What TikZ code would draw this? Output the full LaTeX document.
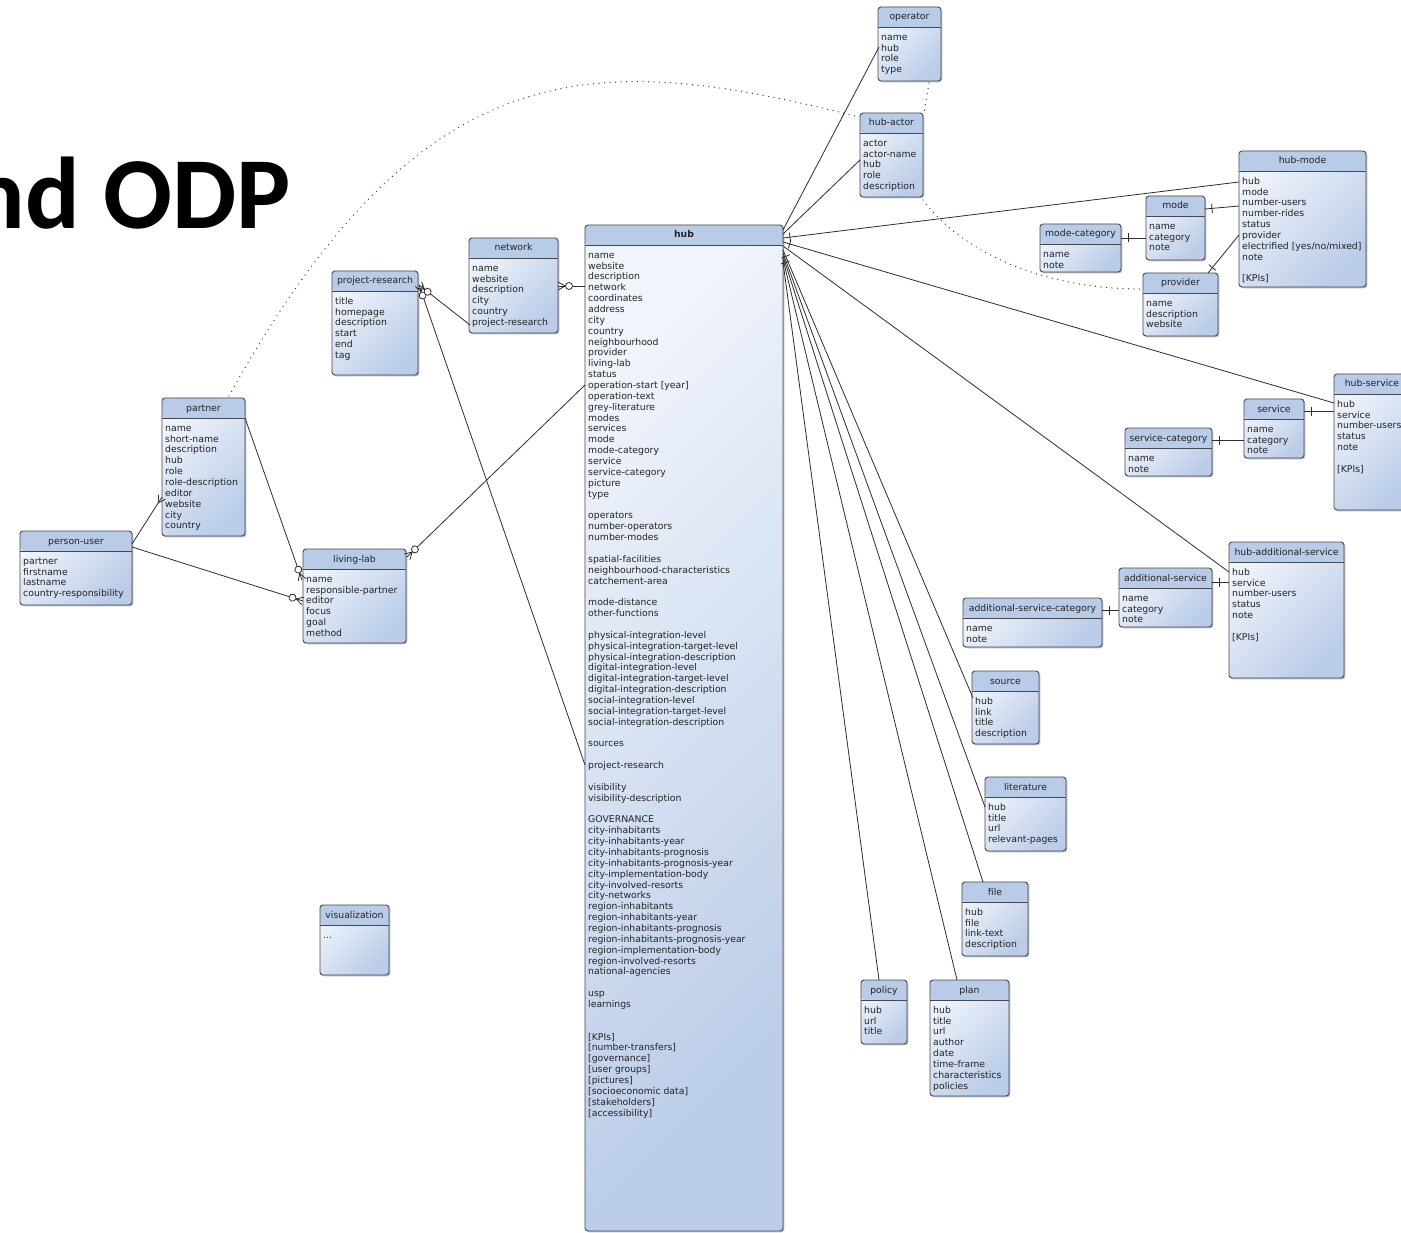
\documentclass[tikz,border=0pt]{standalone}
\usepackage{fontspec}
\newfontfamily\erfont{DejaVu Sans}
\newfontfamily\ttlfont{Carlito}
\usetikzlibrary{calc,shadows,decorations.markings}
\definecolor{edge}{RGB}{70,72,78}
\definecolor{hdr}{RGB}{184,203,231}
\definecolor{elight}{RGB}{240,244,251}
\definecolor{edark}{RGB}{186,204,232}
\definecolor{etext}{RGB}{35,35,35}
\definecolor{lcol}{RGB}{45,45,45}
\tikzset{
  ebox/.style={draw=edge, line width=0.9pt, rounded corners=3pt,
    top color=elight, bottom color=edark, shading angle=45,
    inner sep=0pt, outer sep=0pt, anchor=north west,
    drop shadow={shadow xshift=1.3pt, shadow yshift=-1.3pt, opacity=0.25, fill=black},
    path picture={\fill[hdr] (path picture bounding box.north west) rectangle ([yshift=-20pt]path picture bounding box.north east);
      \draw[edge, line width=0.9pt] ([yshift=-20pt]path picture bounding box.north west) -- ([yshift=-20pt]path picture bounding box.north east);}},
  etitle/.style={font=\erfont\fontsize{9.3}{10.86}\selectfont, text=etext, inner sep=0pt, text height=7pt, text depth=2pt},
  eitems/.style={font=\erfont\fontsize{9.3}{10.86}\selectfont, text=etext, inner sep=0pt, align=left, anchor=north west},
  conn/.style={draw=lcol, line width=0.8pt},
  dotl/.style={draw=lcol, line width=1.3pt, line cap=round, dash pattern=on 0pt off 5.5pt},
  barS/.style={postaction={decorate, decoration={markings, mark=at position 7pt with {\draw[lcol, line width=0.8pt] (0,-4.5pt) -- (0,4.5pt);}}}},
  crowE/.style={postaction={decorate, decoration={markings, mark=at position -0.1pt with {\draw[lcol, line width=0.8pt] (0,4pt) -- (-7pt,0) -- (0,-4pt);}}}},
  circE/.style={postaction={decorate, decoration={markings, mark=at position -11pt with {\draw[lcol, line width=0.8pt, fill=white] (0,0) circle (3.5pt);}}}},
}
\newcommand\ent[7]{%
  \node[ebox, minimum width=#4-#2, minimum height=#5-#3] (#1) at (#2,#3) {};
  \node[etitle] (#1-t) at ($(#1.north)+(0,10.5)$) {#6};
  \node[eitems] (#1-i) at ($(#1.north west)+(3,25.5)$) {\rule{0pt}{7.5pt}#7};
}
\begin{document}
\begin{tikzpicture}[x=1pt,y=-1pt]
\fill[white] (0,0) rectangle (1401,1233);
\useasboundingbox (0,0) rectangle (1401,1233);

\node[font=\ttlfont\bfseries\fontsize{102}{110}\selectfont, anchor=base east, inner sep=0pt] (ttl) at (291,229) {nd ODP};

\ent{operator}{878}{7}{941}{81}{operator}{name\\hub\\role\\type}
\ent{hubactor}{860}{113}{923}{197}{hub-actor}{actor\\actor-name\\hub\\role\\description}
\ent{hubmode}{1239}{151}{1366}{287}{hub-mode}{hub\\mode\\number-users\\number-rides\\status\\provider\\electrified [yes/no/mixed]\\note\\~\\{}[KPIs]}
\ent{mode}{1146}{196}{1205}{260}{mode}{name\\category\\note}
\ent{modecat}{1040}{224}{1121}{272}{mode-category}{name\\note}
\ent{provider}{1143}{273}{1218}{336}{provider}{name\\description\\website}
\ent{hubservice}{1334}{374}{1410}{510}{hub-service}{hub\\service\\number-users\\status\\note\\~\\{}[KPIs]}
\ent{service}{1244}{399}{1304}{458}{service}{name\\category\\note}
\ent{servicecat}{1125}{428}{1212}{476}{service-category}{name\\note}
\ent{hubaddserv}{1229}{542}{1344}{678}{hub-additional-service}{hub\\service\\number-users\\status\\note\\~\\{}[KPIs]}
\ent{addserv}{1119}{568}{1212}{627}{additional-service}{name\\category\\note}
\ent{addservcat}{963}{598}{1102}{647}{additional-service-category}{name\\note}
\ent{source}{972}{671}{1039}{744}{source}{hub\\link\\title\\description}
\ent{literature}{985}{777}{1066}{851}{literature}{hub\\title\\url\\relevant-pages}
\ent{file}{962}{882}{1028}{956}{file}{hub\\file\\link-text\\description}
\ent{policy}{861}{980}{907}{1044}{policy}{hub\\url\\title}
\ent{plan}{930}{980}{1009}{1096}{plan}{hub\\title\\url\\author\\date\\time-frame\\characteristics\\policies}
\ent{network}{469}{238}{558}{333}{network}{name\\website\\description\\city\\country\\project-research}
\ent{projres}{332}{271}{418}{375}{project-research}{title\\homepage\\description\\start\\end\\tag}
\ent{partner}{162}{398}{245}{536}{partner}{name\\short-name\\description\\hub\\role\\role-description\\editor\\website\\city\\country}
\ent{personuser}{20}{531}{132}{605}{person-user}{partner\\firstname\\lastname\\country-responsibility}
\ent{livinglab}{303}{549}{406}{643}{living-lab}{name\\responsible-partner\\editor\\focus\\goal\\method}
\ent{visualization}{320}{905}{389}{975}{visualization}{...}
\ent{hub}{585}{225}{783}{1231}{\textbf{hub}}{name\\website\\description\\network\\coordinates\\address\\city\\country\\neighbourhood\\provider\\living-lab\\status\\operation-start [year]\\operation-text\\grey-literature\\modes\\services\\mode\\mode-category\\service\\service-category\\picture\\type\\~\\operators\\number-operators\\number-modes\\~\\spatial-facilities\\neighbourhood-characteristics\\catchement-area\\~\\mode-distance\\other-functions\\~\\physical-integration-level\\physical-integration-target-level\\physical-integration-description\\digital-integration-level\\digital-integration-target-level\\digital-integration-description\\social-integration-level\\social-integration-target-level\\social-integration-description\\~\\sources\\~\\project-research\\~\\visibility\\visibility-description\\~\\GOVERNANCE\\city-inhabitants\\city-inhabitants-year\\city-inhabitants-prognosis\\city-inhabitants-prognosis-year\\city-implementation-body\\city-involved-resorts\\city-networks\\region-inhabitants\\region-inhabitants-year\\region-inhabitants-prognosis\\region-inhabitants-prognosis-year\\region-implementation-body\\region-involved-resorts\\national-agencies\\~\\usp\\learnings\\~\\~\\{}[KPIs]\\{}[number-transfers]\\{}[governance]\\{}[user groups]\\{}[pictures]\\{}[socioeconomic data]\\{}[stakeholders]\\{}[accessibility]}

% hub fan on the right
\draw[conn] ($(hub.north east)+(0,5)$) -- ($(operator.north west)+(1,40)$);
\draw[conn] ($(hub.north east)+(0,9)$) -- ($(hubactor.north west)+(0,47)$);
\draw[conn,barS] ($(hub.north east)+(0,13)$) -- ($(hubmode.north west)+(0,31)$);
\draw[conn,barS] ($(hub.north east)+(0,17)$) -- ($(hubservice.north west)+(0,29)$);
\draw[conn] ($(hub.north east)+(0,21)$) -- ($(hubaddserv.north west)+(0,30)$);
\draw[conn,barS] ($(hub.north east)+(0,25)$) -- ($(source.north west)+(1,27)$);
\draw[conn] ($(hub.north east)+(0,28)$) -- ($(literature.north west)+(0,30)$);
\draw[conn,barS] ($(hub.north east)+(0,31)$) -- ($(file.north west)+(21,0)$);
\draw[conn] ($(hub.north east)+(0,34)$) -- ($(plan.north west)+(27,0)$);
\draw[conn] ($(hub.north east)+(0,37)$) -- ($(policy.north west)+(18,0)$);

% left side
\draw[conn,crowE,circE] ($(hub.north west)+(0,61)$) -- ($(network.north east)+(0,48)$);
\draw[conn,crowE,circE] ($(hub.north west)+(0,160)$) -- ($(livinglab.north east)+(1,8)$);
\draw[conn,crowE,circE] ($(hub.north west)+(0,540)$) -- ($(projres.north east)+(1,14)$);
\draw[conn,crowE,circE] ($(network.north west)+(1,87)$) -- ($(projres.north east)+(1,14)$);
\draw[conn,crowE,circE] ($(partner.north east)+(0,20)$) -- ($(livinglab.north west)+(-1,31)$);
\draw[conn,crowE] ($(personuser.north east)+(0,13)$) -- ($(partner.north west)+(0,99)$);
\draw[conn,crowE,circE] ($(personuser.north east)+(0,16)$) -- ($(livinglab.north west)+(0,52)$);

% small connectors
\draw[conn,barS] ($(mode.north east)+(0,13)$) -- ($(hubmode.north west)+(0,55)$);
\draw[conn,barS] ($(modecat.north east)+(0,14)$) -- ($(mode.north west)+(0,42)$);
\draw[conn,barS] ($(provider.north east)+(-10,0)$) -- ($(hubmode.north west)+(0,84)$);
\draw[conn,barS] ($(service.north east)+(0,12)$) -- ($(hubservice.north west)+(0,37)$);
\draw[conn,barS] ($(servicecat.north east)+(0,12)$) -- ($(service.north west)+(0,41)$);
\draw[conn,barS] ($(addserv.north east)+(0,14)$) -- ($(hubaddserv.north west)+(0,40)$);
\draw[conn,barS] ($(addservcat.north east)+(0,12)$) -- ($(addserv.north west)+(0,42)$);

% dotted
\draw[dotl] ($(partner.north east)+(-16,-2)$) .. controls (425,42) and (600,52) .. ($(hubactor.north west)+(-1,4)$);
\draw[dotl] ($(operator.south east)+(-12,2)$) -- ($(hubactor.north east)+(1,0)$);
\draw[dotl] ($(hubactor.south east)+(0,3)$) .. controls (960,250) and (1040,289) .. ($(provider.north west)+(-2,16)$);
\end{tikzpicture}
\end{document}
